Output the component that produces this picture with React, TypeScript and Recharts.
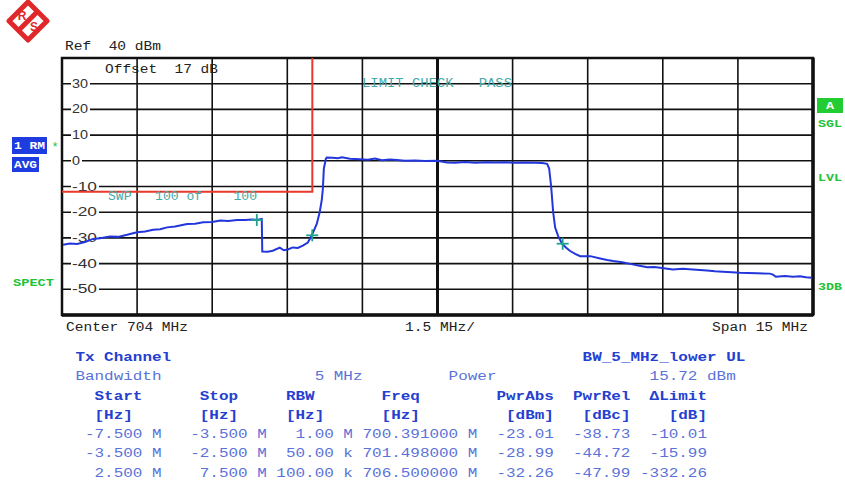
import React from "react";
import {
  ComposedChart,
  Line,
  Scatter,
  XAxis,
  YAxis,
  ReferenceLine,
  ReferenceArea,
} from "recharts";

// spectrum trace, offset from center (MHz) and level (dBm)
const traceFreq = [
  -7.48, -7.34, -7.2, -7.04, -6.88, -6.74, -6.54, -6.38, -6.2, -6.0, -5.84, -5.68,
  -5.54, -5.4, -5.24, -5.0, -4.84, -4.68, -4.5, -4.34, -4.18, -4.0, -3.84, -3.7,
  -3.61, -3.51, -3.5, -3.39, -3.29, -3.15, -3.07, -2.99, -2.89, -2.79, -2.69, -2.59,
  -2.51, -2.41, -2.35, -2.31, -2.29, -2.27, -2.23, -2.21, -2.09, -1.99, -1.91, -1.75,
  -1.55, -1.39, -1.25, -1.11, -0.95, -0.81, -0.65, -0.45, -0.25, -0.01, 0.19, 0.35,
  0.55, 0.75, 0.99, 1.15, 1.35, 1.55, 1.75, 1.95, 2.09, 2.19, 2.23, 2.27, 2.31, 2.35,
  2.41, 2.49, 2.57, 2.65, 2.75, 2.85, 3.05, 3.25, 3.39, 3.51, 3.69, 3.85, 4.01, 4.19,
  4.33, 4.45, 4.59, 4.7, 4.9, 5.1, 5.24, 5.38, 5.54, 5.7, 5.88, 6.04, 6.2, 6.38, 6.64,
  6.7, 6.76, 6.94, 7.1, 7.24, 7.36, 7.48,
];
const traceLevel = [
  -32.7, -32.2, -32.4, -31.6, -30.4, -30.1, -29.5, -29.6, -28.8, -27.8, -27.5, -26.8,
  -26.6, -25.9, -25.6, -24.6, -24.5, -23.9, -23.8, -23.2, -23.4, -23.0, -23.0, -22.8,
  -23.0, -22.6, -35.3, -35.4, -35.0, -33.8, -34.8, -34.5, -33.7, -33.9, -33.0, -31.8,
  -29.0, -24.5, -19.7, -15.0, -11.0, -3.0, 0.8, 1.3, 1.2, 1.0, 1.4, 0.8,
  0.6, 0.4, 0.9, 0.2, 0.5, 0.3, 0.0, 0.1, -0.1, 0.0, -0.7, -0.8,
  -0.5, -0.8, -0.6, -0.7, -0.6, -0.8, -0.7, -0.8, -0.9, -1.2, -3.0, -10.0, -20.0, -26.0,
  -29.3, -32.3, -33.8, -35.1, -36.2, -37.1, -37.1, -38.0, -38.6, -39.0, -39.5, -40.1, -40.7, -41.4,
  -41.3, -41.6, -42.0, -42.3, -42.0, -42.3, -42.5, -42.7, -43.0, -43.2, -43.4, -43.6, -43.7, -43.8, -43.9,
  -44.3, -45.1, -44.8, -45.1, -44.9, -45.3, -45.5,
];

// limit line
const limitFreq = [-7.5, -2.5, -2.5];
const limitLevel = [-12, -12, 40];

// markers (from the result table)
const markerFreq = [-3.609, -2.502, 2.5];
const markerLevel = [-23.01, -28.99, -32.26];

const xGrid = [-6, -4.5, -3, -1.5, 1.5, 3, 4.5, 6];
const yTicks = [30, 20, 10, 0, -10, -20, -30, -40, -50];

// result table
const colHeads = ["Start", "Stop", "RBW", "Freq", "PwrAbs", "PwrRel", "\u0394Limit"];
const colUnits = ["[Hz]", "[Hz]", "[Hz]", "[Hz]", "[dBm]", "[dBc]", "[dB]"];
const startCol = ["-7.500 M", "-3.500 M", "2.500 M"];
const stopCol = ["-3.500 M", "-2.500 M", "7.500 M"];
const rbwCol = ["1.00 M", "50.00 k", "100.00 k"];
const freqCol = ["700.391000 M", "701.498000 M", "706.500000 M"];
const pwrAbsCol = ["-23.01", "-28.99", "-32.26"];
const pwrRelCol = ["-38.73", "-44.72", "-47.99"];
const limitCol = ["-10.01", "-15.99", "-332.26"];

const trace = traceFreq.map((f, i) => ({ f, v: traceLevel[i] }));
const limit = limitFreq.map((f, i) => ({ f, v: limitLevel[i] }));
const markers = markerFreq.map((f, i) => ({ f, v: markerLevel[i] }));

const MONO = "'Liberation Mono', 'DejaVu Sans Mono', monospace";
const BLUE_B = "#2440d0";
const BLUE_N = "#5a72d8";
const TEAL = "#45a9a9";
const GREEN = "#22c23a";

const T = ({ x, y, w, s, fill = "#222", size = 12.5, bold = false, anchor = "start" }: any) => (
  <text
    x={x}
    y={y}
    textLength={w}
    lengthAdjust="spacingAndGlyphs"
    dominantBaseline="central"
    textAnchor={anchor}
    fontFamily={MONO}
    fontSize={size}
    fontWeight={bold ? "bold" : "normal"}
    fill={fill}
    style={{ whiteSpace: "pre" }}
  >
    {s}
  </text>
);

// y level label drawn inside the plot, masking the gridline
const YLab = ({ viewBox, v }: any) => {
  const x = viewBox.x;
  const y = viewBox.y;
  const s = String(v);
  const w = s.replace("-", "").length * 8 + (v < 0 ? 9 : 0);
  return (
    <g>
      <rect x={x + 9} y={y - 6} width={w + 3} height={12} fill="#fff" />
      <text
        x={x + 10}
        y={y}
        textLength={w}
        lengthAdjust="spacingAndGlyphs"
        dominantBaseline="central"
        fontFamily="'Liberation Sans', Arial, sans-serif"
        fontSize={12.5}
        fill="#333"
      >
        {s}
      </text>
    </g>
  );
};

const Plus = ({ cx, cy }: any) => (
  <g stroke="#1fa38f" strokeWidth={1.8}>
    <line x1={cx - 6} y1={cy} x2={cx + 6} y2={cy} />
    <line x1={cx} y1={cy - 6} x2={cx} y2={cy + 6} />
  </g>
);

// table grid (monospace columns)
const X0 = 75.4;
const CW = 9.57;
const cellL = (col: number, s: string, y: number, fill: string, bold = false) => (
  <T key={col + s + y} x={X0 + col * CW} y={y} w={s.length * CW} s={s} fill={fill} bold={bold} size={13} />
);
const cellR = (endCol: number, s: string, y: number) =>
  cellL(endCol - s.length, s, y, BLUE_N);

const headCols = [2, 13, 22, 32, 44, 52, 60];
const unitCols = [2, 13, 22, 32, 45, 53, 62];
const endCols = [9, 20, 29, 42, 50, 58, 66];
const rowY = [434, 453, 473];

const Overlay = () => {
  const cols = [startCol, stopCol, rbwCol, freqCol, pwrAbsCol, pwrRelCol, limitCol];
  return (
    <svg width={845} height={484} style={{ position: "absolute", left: 0, top: 0, pointerEvents: "none" }}>
      {/* R&S logo */}
      <g transform="translate(28,21)">
        <polygon points="0,-19 19,0 0,19 -19,0" fill="#fff" stroke="#e0282a" strokeWidth={5} strokeLinejoin="round" />
        <line x1={-9} y1={9} x2={9} y2={-9} stroke="#e0282a" strokeWidth={5} />
        <text x={-6} y={-5} fontSize={12} fontWeight="bold" fontFamily="'Liberation Sans', Arial" fill="#e0282a" textAnchor="middle" dominantBaseline="central">R</text>
        <text x={6} y={6} fontSize={12} fontWeight="bold" fontFamily="'Liberation Sans', Arial" fill="#e0282a" textAnchor="middle" dominantBaseline="central">S</text>
      </g>

      <T x={65} y={47} w={96} s="Ref  40 dBm" />
      <T x={105} y={70} w={113} s="Offset  17 dB" />
      <T x={362} y={84} w={150} s="LIMIT CHECK   PASS" fill={TEAL} size={12} />
      <T x={108} y={197} w={149} s="SWP   100 of    100" fill={TEAL} size={12} />

      {/* left annotations */}
      <rect x={12} y={137} width={35} height={17} fill="#1e3ce0" />
      <T x={14} y={145.5} w={31} s="1 RM" fill="#fff" bold size={11.5} />
      <text x={55} y={148} fontSize={12} fill={GREEN} fontFamily={MONO} textAnchor="middle" dominantBaseline="central">*</text>
      <rect x={12} y={157} width={27} height={15} fill="#1e3ce0" />
      <T x={14} y={164.5} w={23} s="AVG" fill="#fff" bold size={11.5} />
      <T x={13} y={282} w={41} s="SPECT" fill={GREEN} bold size={11.5} />

      {/* right annotations */}
      <rect x={817} y={98} width={26} height={15} fill="#22cc33" />
      <T x={830} y={105.5} w={8} s="A" fill="#fff" bold size={11.5} anchor="middle" />
      <T x={818} y={123} w={24} s="SGL" fill={GREEN} bold size={11.5} />
      <T x={818} y={177} w={24} s="LVL" fill={GREEN} bold size={11.5} />
      <T x={818} y={286} w={24} s="3DB" fill={GREEN} bold size={11.5} />

      {/* frequency axis annotations */}
      <T x={66} y={328} w={122} s="Center 704 MHz" />
      <T x={405} y={328} w={70} s="1.5 MHz/" />
      <T x={712} y={328} w={96} s="Span 15 MHz" />

      {/* result table */}
      {cellL(0, "Tx Channel", 357, BLUE_B, true)}
      {cellL(53, "BW_5_MHz_lower UL", 357, BLUE_B, true)}
      {cellL(0, "Bandwidth", 376, BLUE_N)}
      {cellL(25, "5 MHz", 376, BLUE_N)}
      {cellL(39, "Power", 376, BLUE_N)}
      {cellL(60, "15.72 dBm", 376, BLUE_N)}
      {colHeads.map((h, i) => cellL(headCols[i], h, 396, BLUE_B, true))}
      {colUnits.map((u, i) => cellL(unitCols[i], u, 415, BLUE_B, true))}
      {cols.map((col, ci) => col.map((s, ri) => cellR(endCols[ci], s, rowY[ri])))}
    </svg>
  );
};

export default function App() {
  return (
    <div style={{ position: "absolute", left: 0, top: 0, width: 845, height: 484, background: "#fff" }}>
      <ComposedChart width={845} height={484} margin={{ top: 58, right: 32, bottom: 169, left: 62 }}>
        <XAxis type="number" dataKey="f" domain={[-7.5, 7.5]} hide allowDataOverflow />
        <YAxis type="number" dataKey="v" domain={[-60, 40]} hide allowDataOverflow />
        {yTicks.map((v) => (
          <ReferenceLine key={"h" + v} y={v} stroke="#111" strokeWidth={1.6} label={<YLab v={v} />} />
        ))}
        {xGrid.map((v) => (
          <ReferenceLine key={"v" + v} x={v} stroke="#111" strokeWidth={1.6} />
        ))}
        <ReferenceLine x={0} stroke="#111" strokeWidth={3} />
        <ReferenceArea x1={-7.5} x2={7.5} y1={-60} y2={40} fill="none" fillOpacity={0} stroke="#111" strokeWidth={2.5} />
        <ReferenceLine x={7.5} stroke="#111" strokeWidth={3.5} />
        <ReferenceLine y={-60} stroke="#111" strokeWidth={3.5} />
        <Line data={limit} dataKey="v" stroke="#e8392c" strokeWidth={2} dot={false} isAnimationActive={false} type="linear" />
        <Line data={trace} dataKey="v" stroke="#2236dc" strokeWidth={2} dot={false} isAnimationActive={false} type="linear" />
        <Scatter data={markers} dataKey="v" shape={<Plus />} isAnimationActive={false} />
      </ComposedChart>
      <Overlay />
    </div>
  );
}
